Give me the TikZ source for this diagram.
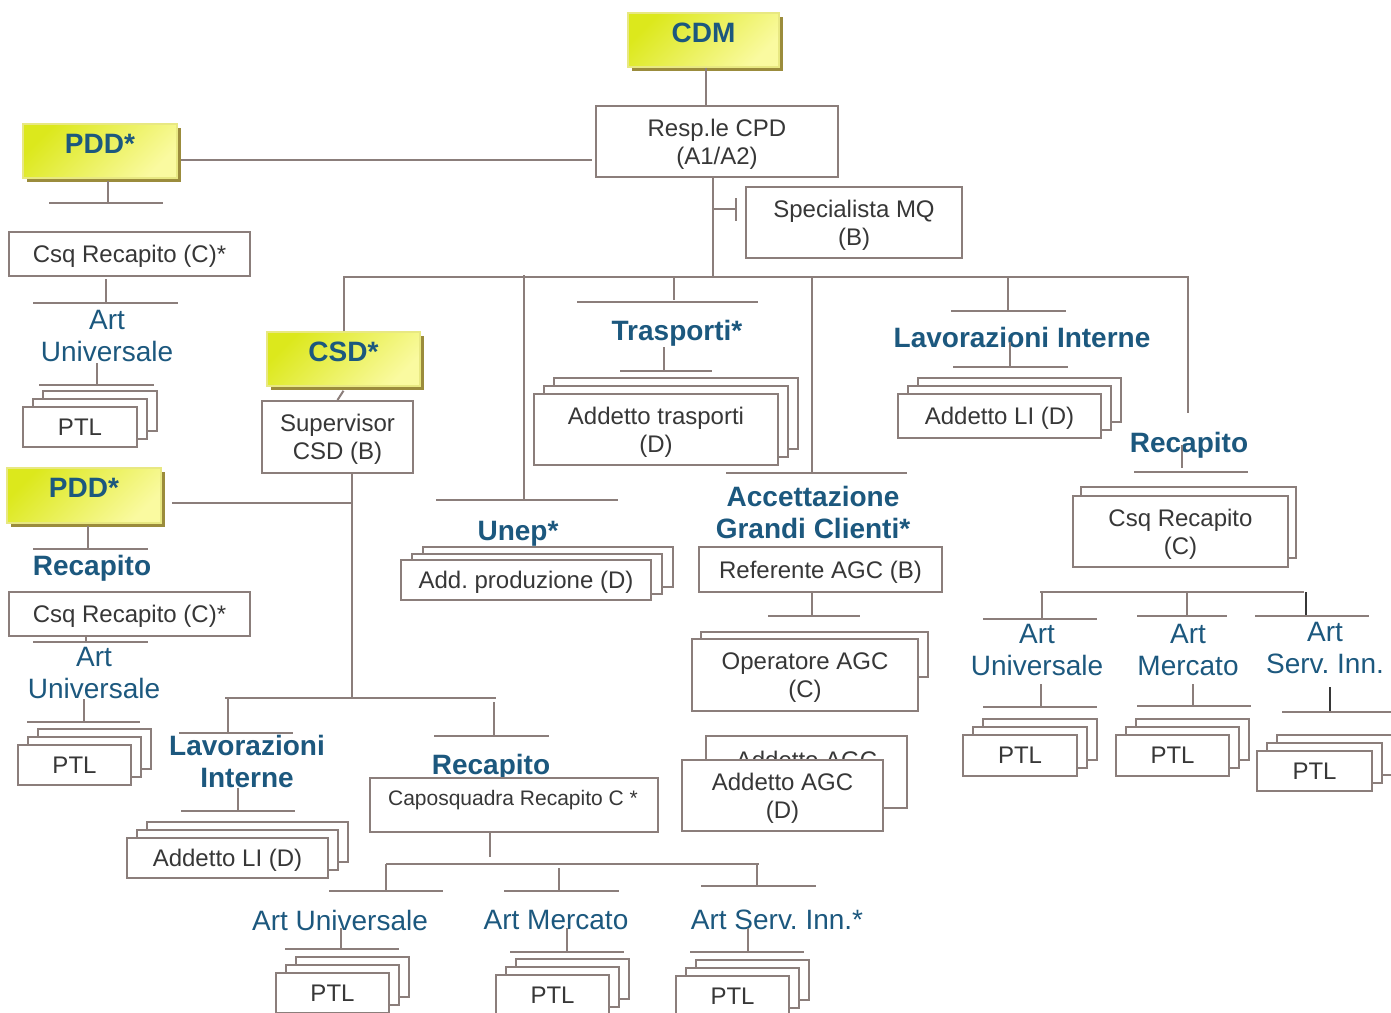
\documentclass[tikz,border=0pt]{standalone}
\usepackage{fontspec}
\setmainfont{Liberation Sans}
\frenchspacing
\usetikzlibrary{shadows}
\definecolor{lnc}{RGB}{139,126,123}
\definecolor{txt}{RGB}{55,55,55}
\definecolor{hd}{RGB}{28,88,126}
\definecolor{yelA}{RGB}{220,232,28}
\definecolor{yelB}{RGB}{250,250,160}
\definecolor{yelE}{RGB}{232,232,130}
\definecolor{yelS}{RGB}{155,140,60}

\begin{document}
\begin{tikzpicture}[x=1pt, y=-1pt, line width=2pt,
  ln/.style={draw=lnc},
  box/.style={draw=lnc, fill=white, text=txt, inner sep=0pt, align=center, text depth=0pt, font=\fontsize{24}{28}\selectfont},
  stack/.style={box, general shadow={draw=lnc, fill=white, shadow xshift=20pt, shadow yshift=16pt},
    general shadow={draw=lnc, fill=white, shadow xshift=10pt, shadow yshift=8pt}},
  ybox/.style={draw=yelE, line width=1.5pt, top color=yelA, bottom color=yelB, shading angle=45,
    general shadow={fill=yelS, draw=none, shadow xshift=4pt, shadow yshift=-4pt},
    minimum width=154, minimum height=54, inner sep=0pt, text=hd, text depth=15pt, font=\bfseries\fontsize{28}{32}\selectfont},
  head/.style={text=hd, align=center, text depth=0pt, font=\bfseries\fontsize{28}{32}\selectfont},
  art/.style={text=hd, align=center, font=\fontsize{28}{32}\selectfont}]
\useasboundingbox (0,0) rectangle (1391,1012);
% vertice
\node[ybox, minimum width=151] (cdm) at (703.5,40) {CDM};
\node[box, minimum width=242, minimum height=71] (resp) at (717,141.5) {Resp.le CPD\\(A1/A2)};
\node[box, minimum width=216, minimum height=71] (spec) at (854,222.5) {Specialista MQ\\(B)};
\coordinate (hub) at (713,277);
\draw[ln] (cdm.south -| 706,0) -- (resp.north -| 706,0);
\draw[ln] (resp.south -| hub) -- (hub);
\draw[ln] (hub |- 0,209) -- (736,209) (736,198) -- (736,221);
% PDD in alto
\node[ybox] (pdd) at (100,151) {PDD*};
\node[box, minimum width=241, minimum height=44] (csqa) at (129.5,254) {Csq Recapito (C)*};
\node[art] (artua) at (107,336) {Art\\Universale};
\node[stack, minimum width=114, minimum height=40] (ptla) at (80,427) {PTL};
\draw[ln] ([xshift=3pt]pdd.east |- 0,160) -- ([xshift=-3pt]resp.west |- 0,160);
\draw[ln] (108,181) -- (108,203) (49,203) -- (163,203);
\draw[ln] (106,279) -- (106,303) (33,303) -- (178,303);
\draw[ln] (97,363) -- (97,385) (39,385) -- (154,385);
% CSD
\node[ybox, minimum width=153] (csd) at (343.5,359) {CSD*};
\node[box, minimum width=151, minimum height=72] (sup) at (337.5,437) {Supervisor\\CSD (B)};
\draw[ln] (csd.north) |- (hub) -| (1188,413);
\draw[ln] ([yshift=-4pt]csd.south) -- (sup.north);
\coordinate (low) at (352,698);
\draw[ln] (sup.south -| low) -- (low);
% PDD in basso
\node[ybox, minimum height=55] (pddb) at (84,495.5) {PDD*};
\node[head] (recl) at (92,565) {Recapito};
\node[box, minimum width=241, minimum height=44] (csqb) at (129.5,614) {Csq Recapito (C)*};
\node[art] (artub) at (94,673) {Art\\Universale};
\node[stack, minimum width=113, minimum height=40] (ptlb) at (74.5,765) {PTL};
\draw[ln] ([xshift=10pt]pddb.east |- 0,503) -- (low |- 0,503);
\draw[ln] (88,526) -- (88,549) (33,549) -- (148,549);
\draw[ln] (86,636) -- (86,642) (33,642) -- (148,642);
\draw[ln] (84,699) -- (84,722) (27,722) -- (140,722);
% sotto CSD
\draw[ln] (225,698) -- (496,698);
\draw[ln] (228,698) -- (228,732) (179,733) -- (293,733);
\node[head] (lavl) at (247,761) {Lavorazioni\\Interne};
\draw[ln] (238,788) -- (238,811) (181,811) -- (295,811);
\node[stack, minimum width=201, minimum height=40] (lil) at (227.5,858) {Addetto LI (D)};
\draw[ln] (494,702) -- (494,736) (434,736) -- (549,736);
\node[head] (recb) at (491,764) {Recapito};
\node[box, minimum width=288, minimum height=54] (capo) at (514,805) {};
\node[text=txt, text depth=0pt, font=\fontsize{21}{25}\selectfont] (capot) at (513,798) {Caposquadra Recapito C *};
\draw[ln] (capo.south -| 490,0) -- (490,857) (386,864) -- (759,864);
\draw[ln] (386,864) -- (386,890) (559,868) -- (559,891) (757,864) -- (757,886);
\draw[ln] (329,891) -- (443,891) (504,891) -- (619,891) (701,886) -- (816,886);
\node[art] (artuc) at (340,920) {Art Universale};
\node[art] (artmc) at (556,920) {Art Mercato};
\node[art] (artsc) at (777,920) {Art Serv. Inn.*};
\draw[ln] (341,928) -- (341,949) (285,949) -- (399,949);
\draw[ln] (567,928) -- (567,952) (510,952) -- (624,952);
\draw[ln] (748,928) -- (748,952) (690,952) -- (804,952);
\node[stack, minimum width=113, minimum height=40] (ptlc) at (332.5,993) {PTL};
\node[stack, minimum width=113, minimum height=40] (ptld) at (552.5,995) {PTL};
\node[stack, minimum width=113, minimum height=40] (ptle) at (732.5,996) {PTL};
% Unep, Trasporti
\draw[ln] (524,275) -- (524,500) (436,500) -- (618,500);
\node[box, minimum width=250, minimum height=40,
  general shadow={draw=lnc, fill=white, shadow xshift=22pt, shadow yshift=13pt},
  general shadow={draw=lnc, fill=white, shadow xshift=11pt, shadow yshift=6.5pt}] (addp) at (526,580) {Add. produzione (D)};
\node[head] (unep) at (518,531) {Unep*};
\draw[ln] (674,277) -- (674,300) (577,302) -- (758,302);
\node[head] (tra) at (677,330) {Trasporti*};
\draw[ln] (664,347) -- (664,371) (620,371) -- (712,371);
\node[stack, minimum width=244, minimum height=71] (addt) at (656,429.5) {Addetto trasporti\\(D)};
% AGC
\draw[ln] (812,277) -- (812,473) (726,473) -- (907,473);
\node[head] (acc) at (813,512) {Accettazione\\Grandi Clienti*};
\node[box, minimum width=243, minimum height=45] (refa) at (820.5,569.5) {Referente AGC (B)};
\draw[ln] (refa.south -| 812,0) -- (812,616) (768,616) -- (860,616);
\node[box, minimum width=227, minimum height=45] (opeb) at (814.5,654.5) {};
\node[box, minimum width=226, minimum height=72] (ope) at (805,675) {Operatore AGC\\(C)};
\node[box, minimum width=201, minimum height=72, text depth=24pt] (agcb) at (806.5,772) {Addetto AGC};
\node[box, minimum width=201, minimum height=71] (agc) at (782.5,795.5) {Addetto AGC\\(D)};
% Lavorazioni Interne, Recapito
\draw[ln] (1008,277) -- (1008,310) (951,311) -- (1066,311);
\node[head] (lavr) at (1022,337) {Lavorazioni Interne};
\draw[ln] (1010,342) -- (1010,367) (953,367) -- (1068,367);
\node[stack, minimum width=203, minimum height=44] (lir) at (999.5,416) {Addetto LI (D)};
\node[head] (recr) at (1189,442) {Recapito};
\draw[ln] (1182,445) -- (1182,468) (1134,472) -- (1248,472);
\node[box, minimum width=215, minimum height=71,
  general shadow={draw=lnc, fill=white, shadow xshift=8pt, shadow yshift=9pt}] (csqr) at (1180.5,531.5) {Csq Recapito\\(C)};
\draw[ln] (1040,592) -- (1304,592) (1042,592) -- (1042,619) (1187,592) -- (1187,616);
\draw[txt] (1306,592) -- (1306,615);
\draw[ln] (983,619) -- (1097,619) (1137,616) -- (1227,616) (1255,616) -- (1369,616);
\node[art] (artur) at (1037,650) {Art\\Universale};
\node[art] (artmr) at (1188,650) {Art\\Mercato};
\node[art] (artsr) at (1325,648) {Art\\Serv. Inn.};
\draw[ln] (1041,684) -- (1041,707) (983,707) -- (1097,707);
\draw[ln] (1193,684) -- (1193,706) (1137,706) -- (1251,706);
\draw[txt] (1330,687) -- (1330,712);
\draw[ln] (1282,712) -- (1391,712);
\node[stack, minimum width=114, minimum height=41] (ptlr) at (1020,755.5) {PTL};
\node[stack, minimum width=113, minimum height=41] (ptls) at (1172.5,755.5) {PTL};
\node[stack, minimum width=115, minimum height=40] (ptlt) at (1314.5,771) {PTL};
\end{tikzpicture}
\end{document}
